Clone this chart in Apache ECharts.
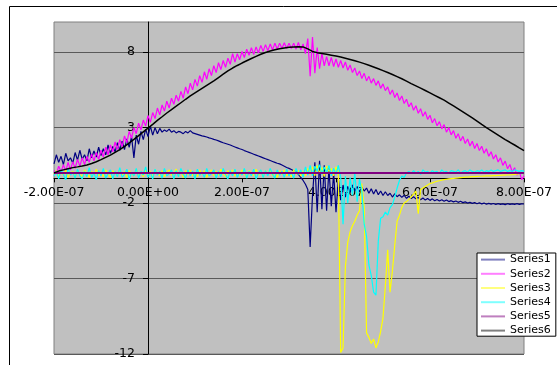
<!DOCTYPE html>
<html>
<head>
<meta charset="utf-8">
<script src="https://cdn.jsdelivr.net/npm/echarts@6/dist/echarts.min.js"></script>
<style>
html,body{margin:0;padding:0;background:#fff;}
#c{width:557px;height:365px;}
</style>
</head>
<body>
<div id="c"></div>
<script>
// time samples in units of 1e-8 s
const tFine = [
-20,-19.5,-19,-18.5,-18,-17.5,-17,-16.5,-16,-15.5,-15,-14.5,-14,-13.5,-13,-12.5,-12,-11.5,-11,-10.5,
-10,-9.5,-9,-8.5,-8,-7.5,-7,-6.5,-6,-5.5,-5,-4.5,-4,-3.5,-3,-2.5,-2,-1.5,-1,-0.5,
0,0.5,1,1.5,2,2.5,3,3.5,4,4.5,5,5.5,6,6.5,7,7.5,8,8.5,9,9.5,
10,10.5,11,11.5,12,12.5,13,13.5,14,14.5,15,15.5,16,16.5,17,17.5,18,18.5,19,19.5,
20,20.5,21,21.5,22,22.5,23,23.5,24,24.5,25,25.5,26,26.5,27,27.5,28,28.5,29,29.5,
30,30.5,31,31.5,32,32.5,33,33.5,34,34.5,35,35.5,36,36.5,37,37.5,38,38.5,39,39.5,
40,40.5,41,41.5,42,42.5,43,43.5,44,44.5,45,45.5,46,46.5,47,47.5,48,48.5,49,49.5,
50,50.5,51,51.5,52,52.5,53,53.5,54,54.5,55,55.5,56,56.5,57,57.5,58,58.5,59,59.5,
60,60.5,61,61.5,62,62.5,63,63.5,64,64.5,65,65.5,66,66.5,67,67.5,68,68.5,69,69.5,
70,70.5,71,71.5,72,72.5,73,73.5,74,74.5,75,75.5,76,76.5,77,77.5,78,78.5,79,79.5,
80];
const tCoarse = [
-20,-19,-18,-17,-16,-15,-14,-13,-12,-11,
-10,-9,-8,-7,-6,-5,-4,-3,-2,-1,
0,1,2,3,4,5,6,7,8,9,
10,11,12,13,14,15,16,17,18,19,
20,21,22,23,24,25,26,27,28,29,
30,31,32,33,34,35,36,37,38,39,
40,41,42,43,44,45,46,47,48,49,
50,51,52,53,54,55,56,57,58,59,
60,61,62,63,64,65,66,67,68,69,
70,71,72,73,74,75,76,77,78,79,
80];
const tEnds = [-20, 80];

const series1 = [
0.6,1.2,0.7,1.1,0.55,1.3,0.8,1.0,0.65,1.35,0.85,1.5,0.9,1.2,0.8,1.6,1.0,1.45,1.05,1.7,
1.15,1.6,1.2,1.85,1.3,1.75,1.4,2.0,1.5,2.1,1.55,2.25,1.7,2.4,1.0,2.5,1.9,2.75,2.2,2.9,
2.4,3.1,2.5,3.0,2.6,2.95,2.7,2.85,2.75,2.9,2.7,2.8,2.65,2.75,2.7,2.6,2.75,2.65,2.8,2.65,
2.6,2.55,2.5,2.45,2.42,2.38,2.32,2.28,2.22,2.18,2.12,2.06,2.0,1.95,1.9,1.85,1.78,1.72,1.66,1.6,
1.55,1.48,1.42,1.36,1.3,1.24,1.18,1.12,1.06,1.0,0.94,0.88,0.82,0.76,0.7,0.64,0.6,0.52,0.44,0.36,
0.3,0.22,0.14,0.06,-0.1,-0.3,-0.5,-0.75,-1.1,-4.9,-1.5,0.7,-2.6,0.8,-2.4,0.5,-2.5,0.3,-2.2,0.0,
-2.6,-0.4,-1.8,-0.8,-1.6,-0.9,-1.3,-0.8,-1.2,-0.9,-1.25,-0.95,-1.2,-1.0,-1.35,-1.05,-1.4,-1.1,-1.45,-1.2,
-1.5,-1.25,-1.5,-1.35,-1.6,-1.38,-1.58,-1.45,-1.62,-1.48,-1.68,-1.55,-1.7,-1.58,-1.72,-1.62,-1.78,-1.66,-1.8,-1.7,
-1.82,-1.72,-1.84,-1.76,-1.86,-1.78,-1.88,-1.8,-1.9,-1.84,-1.92,-1.86,-1.95,-1.88,-1.97,-1.92,-2.0,-1.94,-2.02,-1.96,
-2.04,-1.98,-2.05,-2.0,-2.08,-2.02,-2.07,-2.03,-2.09,-2.04,-2.08,-2.05,-2.1,-2.04,-2.08,-2.05,-2.09,-2.04,-2.08,-2.05,
-2.06];

const series2 = [
0.15,-0.05,0.45,0.05,0.55,0.1,0.7,0.2,0.75,0.3,0.9,0.45,1.0,0.55,1.1,0.7,1.25,0.8,1.35,0.9,
1.5,1.05,1.7,1.2,1.85,1.4,2.05,1.55,2.2,1.75,2.45,2.0,2.75,2.3,3.0,2.6,3.3,2.85,3.5,3.1,
3.8,3.35,4.0,3.6,4.3,3.85,4.5,4.1,4.75,4.3,4.95,4.55,5.15,4.75,5.4,4.95,5.7,5.25,5.95,5.5,
6.2,5.75,6.45,6.0,6.7,6.2,6.9,6.45,7.1,6.65,7.3,6.85,7.45,7.0,7.6,7.2,7.9,7.35,7.9,7.5,
8.05,7.65,8.2,7.8,8.3,7.85,8.35,7.95,8.45,8.05,8.5,8.1,8.55,8.15,8.6,8.2,8.6,8.25,8.62,8.25,
8.6,8.25,8.6,8.2,8.65,8.15,8.55,7.9,8.9,6.4,9.0,6.6,8.3,6.9,7.9,7.1,7.7,7.1,7.65,7.05,
7.55,7.0,7.45,6.95,7.35,6.8,7.15,6.65,6.95,6.45,6.75,6.25,6.6,6.1,6.4,5.95,6.25,5.8,6.1,5.6,
5.9,5.45,5.7,5.2,5.5,5.0,5.3,4.8,5.1,4.6,4.88,4.38,4.65,4.15,4.45,3.95,4.25,3.75,4.05,3.55,
3.82,3.32,3.6,3.12,3.4,2.92,3.2,2.7,3.0,2.52,2.8,2.3,2.6,2.12,2.42,1.95,2.25,1.78,2.1,1.62,
1.95,1.48,1.77,1.3,1.6,1.1,1.4,0.92,1.2,0.72,1.0,0.5,0.78,0.28,0.56,0.06,0.34,-0.15,0.1,-0.45,
-0.2];

const series3 = [
-0.1,0.15,-0.25,0.05,-0.15,0.2,-0.3,0.0,0.1,-0.2,0.15,-0.1,-0.25,0.2,-0.05,-0.3,0.1,-0.15,0.25,-0.2,
0.05,-0.25,0.2,-0.1,-0.3,0.15,0.0,-0.2,0.2,-0.15,0.1,-0.3,0.15,-0.05,-0.2,0.25,-0.1,0.05,-0.25,0.2,
-0.15,0.1,-0.3,0.2,-0.05,-0.2,0.15,-0.25,0.05,0.2,-0.15,-0.05,0.25,-0.2,0.1,-0.3,0.15,-0.1,0.2,-0.2,
0.05,-0.25,0.2,-0.1,0.15,-0.3,0.0,0.2,-0.2,0.1,-0.15,0.25,-0.1,-0.25,0.15,-0.05,0.2,-0.2,0.05,-0.15,
0.2,-0.1,-0.25,0.15,0.0,-0.2,0.25,-0.15,0.1,-0.25,0.15,-0.05,0.2,-0.2,0.05,-0.3,0.15,-0.1,0.2,-0.2,
0.1,-0.25,0.2,-0.1,0.15,-0.2,0.1,-0.2,0.3,-0.1,0.4,-0.2,0.5,0.0,0.35,-0.25,0.45,0.1,0.3,-0.2,
0.4,0.1,-11.9,-11.6,-6.2,-4.6,-3.9,-3.5,-3.2,-2.8,-2.5,-0.7,-2.3,-10.6,-10.9,-11.3,-11.0,-11.6,-11.2,-10.5,
-9.6,-7.5,-5.1,-7.9,-6.5,-4.8,-3.2,-2.8,-2.3,-2.0,-1.9,-1.75,-1.6,-1.4,-1.2,-2.7,-1.1,-1.0,-0.9,-0.8,
-0.7,-0.66,-0.6,-0.55,-0.52,-0.48,-0.45,-0.42,-0.4,-0.38,-0.36,-0.34,-0.33,-0.31,-0.3,-0.28,-0.27,-0.26,-0.25,-0.24,
-0.23,-0.22,-0.22,-0.21,-0.2,-0.2,-0.19,-0.18,-0.18,-0.17,-0.16,-0.15,-0.15,-0.14,-0.13,-0.12,-0.1,-0.08,-0.05,-0.02,
0.0];

const series4 = [
-0.2,0.1,-0.4,0.2,-0.1,-0.45,0.3,-0.15,0.05,-0.35,0.25,-0.2,-0.4,0.1,-0.25,0.35,-0.3,0.0,-0.45,0.15,
-0.2,0.3,-0.35,-0.05,0.2,-0.4,0.1,-0.25,0.35,-0.3,-0.1,0.25,-0.45,0.05,-0.2,0.3,-0.35,0.1,-0.15,0.4,
-0.3,0.05,-0.4,0.25,-0.15,0.1,-0.35,0.3,-0.2,-0.05,0.2,-0.4,0.15,-0.25,0.3,-0.1,-0.35,0.2,-0.2,0.1,
-0.4,0.25,-0.15,0.05,-0.3,0.3,-0.2,-0.05,0.2,-0.35,0.1,-0.25,0.3,-0.1,-0.4,0.15,-0.2,0.25,-0.3,0.05,
-0.15,0.3,-0.35,0.1,-0.2,0.25,-0.4,0.0,0.2,-0.3,0.15,-0.2,0.3,-0.1,-0.35,0.2,-0.15,0.1,-0.3,0.25,
-0.2,0.05,-0.35,0.3,-0.1,0.2,-0.3,0.4,-0.15,0.5,-0.2,0.45,0.1,0.55,-0.1,0.4,0.0,0.5,-0.2,0.3,
-0.1,0.5,-0.3,-3.4,-0.2,-2.0,-0.3,-1.5,0.0,-1.9,-0.4,-1.2,-3.4,-4.2,-6.1,-6.8,-7.9,-8.1,-4.5,-3.0,
-2.9,-2.6,-2.8,-2.3,-2.1,-1.6,-1.0,-0.5,-0.2,-0.3,0.0,0.1,-0.05,0.15,0.0,0.1,-0.1,0.2,0.05,0.1,
0.0,0.15,0.05,0.1,-0.05,0.2,0.05,0.1,0.0,0.15,0.1,0.05,0.2,0.0,0.1,0.15,0.05,0.2,0.1,0.05,
0.15,0.1,0.2,0.05,0.15,0.1,0.2,0.1,0.15,0.2,0.1,0.15,0.2,0.1,0.15,0.1,0.2,0.15,0.1,0.15,
0.1];

const series5 = [0, 0];

const series6 = [
0.00,0.12,0.20,0.28,0.35,0.40,0.46,0.53,0.62,0.74,
0.88,1.03,1.18,1.36,1.55,1.76,1.98,2.22,2.47,2.72,
2.97,3.22,3.48,3.72,3.97,4.20,4.42,4.65,4.88,5.10,
5.30,5.50,5.70,5.90,6.10,6.32,6.54,6.76,6.95,7.12,
7.28,7.43,7.58,7.72,7.86,7.98,8.08,8.16,8.23,8.28,
8.32,8.35,8.36,8.35,8.22,8.05,7.97,7.92,7.86,7.80,
7.74,7.68,7.60,7.52,7.43,7.34,7.24,7.13,7.02,6.90,
6.78,6.65,6.52,6.38,6.24,6.08,5.92,5.77,5.62,5.46,
5.30,5.14,4.98,4.82,4.63,4.44,4.25,4.05,3.85,3.64,
3.43,3.21,3.00,2.80,2.60,2.40,2.20,2.03,1.85,1.66,
1.48];

const seriesNames = ['Series1','Series2','Series3','Series4','Series5','Series6'];
const xTicks = {min: -2e-7, max: 8e-7, step: 2e-7};
const yTicks = {min: -12, max: 10, step: 5};
const T_UNIT = 1e-8;

function pairs(t, v) { return t.map((tt, i) => [tt * T_UNIT, v[i]]); }

function sci(v) {
  if (Math.abs(v) < 1e-15) return '0.00E+00';
  const s = v.toExponential(2);
  const parts = s.split('e');
  const sign = parts[1][0] === '-' ? '-' : '+';
  let d = parts[1].replace(/[+-]/, '');
  if (d.length < 2) d = '0' + d;
  return parts[0] + 'E' + sign + d;
}

const chart = echarts.init(document.getElementById('c'), null, {renderer: 'canvas'});
const FONT = 'DejaVu Sans';
const specs = [
  {name: seriesNames[0], t: tFine, v: series1, color: '#000080', w: 1.2},
  {name: seriesNames[1], t: tFine, v: series2, color: '#FF00FF', w: 1.2},
  {name: seriesNames[2], t: tFine, v: series3, color: '#FFFF00', w: 1.2},
  {name: seriesNames[3], t: tFine, v: series4, color: '#00FFFF', w: 1.2},
  {name: seriesNames[4], t: tEnds, v: series5, color: '#800080', w: 2},
  {name: seriesNames[5], t: tCoarse, v: series6, color: '#000000', w: 1.5}
];

chart.setOption({
  animation: false,
  backgroundColor: '#ffffff',
  graphic: [{
    type: 'rect', silent: true, z: -10,
    shape: {x: 9.5, y: 6.5, width: 600, height: 400},
    style: {fill: 'none', stroke: '#000', lineWidth: 1}
  }],
  grid: {
    left: 54, top: 22, right: 33, bottom: 11,
    show: true, backgroundColor: '#c0c0c0', borderColor: '#808080', borderWidth: 1
  },
  xAxis: {
    type: 'value', min: xTicks.min, max: xTicks.max, interval: xTicks.step,
    axisLine: {show: true, onZero: false, lineStyle: {color: '#000', width: 1}},
    axisTick: {show: true, inside: false, length: 4, lineStyle: {color: '#000'}},
    splitLine: {show: false},
    axisLabel: {
      formatter: sci, margin: 8, color: '#000', fontFamily: FONT, fontSize: 12.5,
      showMinLabel: true, showMaxLabel: true
    }
  },
  yAxis: {
    type: 'value', min: yTicks.min, max: yTicks.max, interval: yTicks.step,
    axisLine: {show: true, onZero: false, lineStyle: {color: '#000', width: 1}},
    axisTick: {show: true, inside: false, length: 5, lineStyle: {color: '#000'}},
    splitLine: {show: true, showMaxLine: false, lineStyle: {color: '#595959', width: 1}},
    axisLabel: {
      margin: 13, color: '#000', fontFamily: FONT, fontSize: 12.5,
      showMaxLabel: false, showMinLabel: true
    }
  },
  legend: {
    data: seriesNames,
    orient: 'vertical', left: 477, top: 253,
    itemWidth: 24, itemHeight: 14, itemGap: 3,
    padding: [1, 5, 0, 3],
    backgroundColor: '#ffffff', borderColor: '#000', borderWidth: 1,
    itemStyle: {opacity: 0},
    lineStyle: {width: 2, opacity: 0.5},
    textStyle: {fontFamily: FONT, fontSize: 11, color: '#000'}
  },
  series: specs.map(s => ({
    type: 'line', name: s.name, data: pairs(s.t, s.v),
    symbol: 'none', showSymbol: false,
    lineStyle: {color: s.color, width: s.w},
    itemStyle: {color: s.color},
    emphasis: {disabled: true}
  }))
});

// place the axes so that they cross at the zero of the other axis (library scales)
const zeroY = chart.convertToPixel({yAxisIndex: 0}, 0);
const bottomY = chart.convertToPixel({yAxisIndex: 0}, yTicks.min);
const zeroX = chart.convertToPixel({xAxisIndex: 0}, 0);
const leftX = chart.convertToPixel({xAxisIndex: 0}, xTicks.min);
chart.setOption({
  xAxis: {offset: -(bottomY - zeroY)},
  yAxis: {offset: -(zeroX - leftX)}
});
</script>
</body>
</html>
